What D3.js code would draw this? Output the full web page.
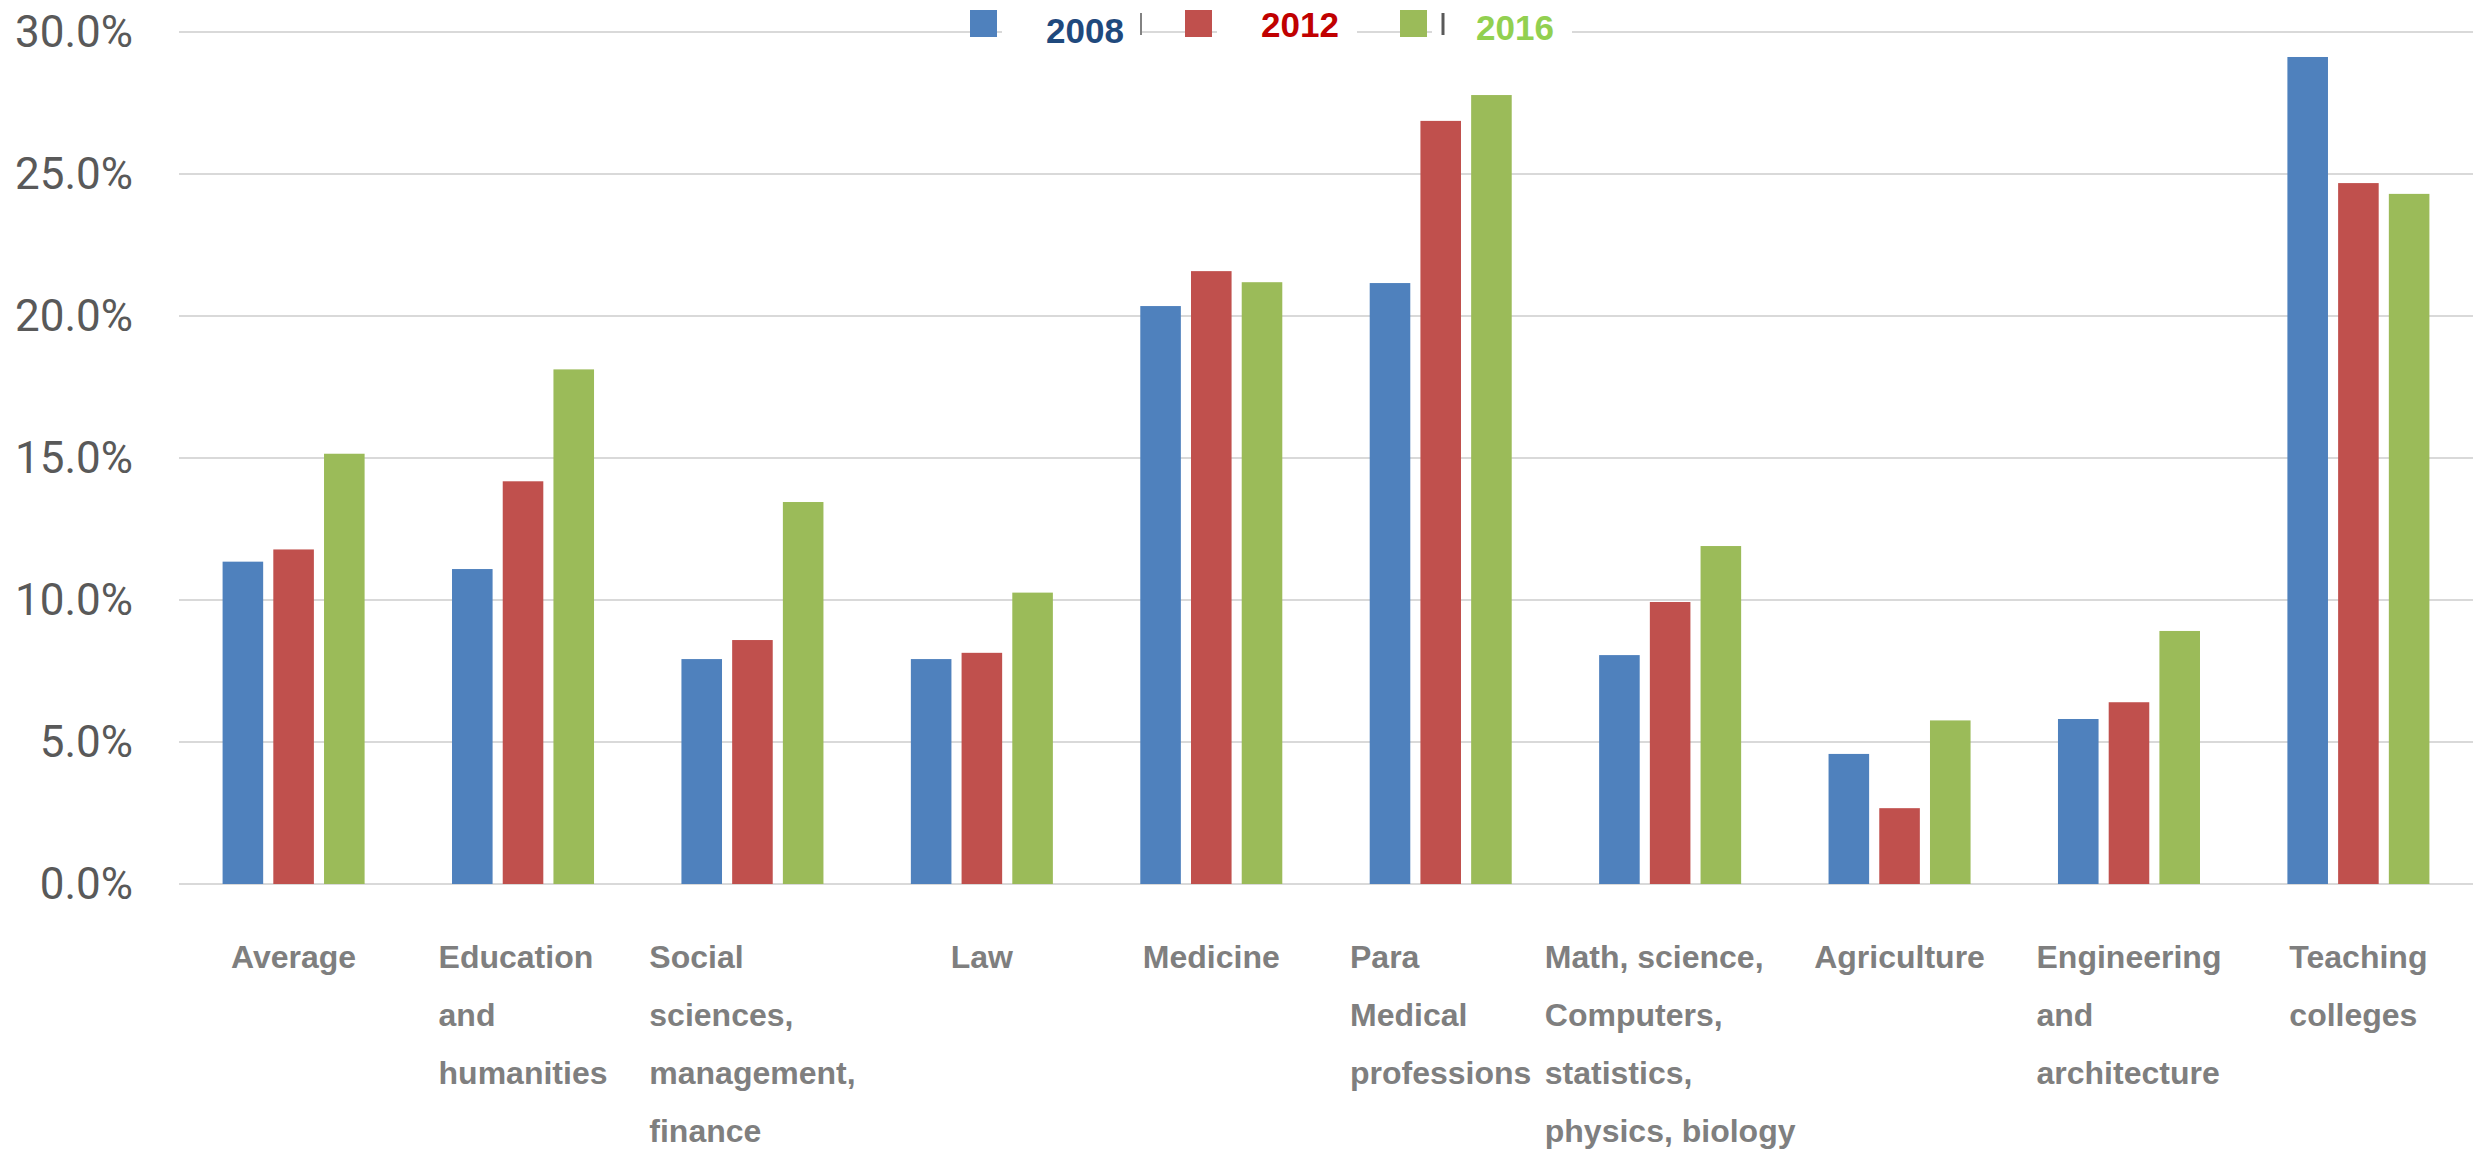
<!DOCTYPE html>
<html>
<head>
<meta charset="utf-8">
<script src="https://cdn.jsdelivr.net/npm/d3@7"></script>
<style>
  body { margin: 0; background: #fff; }
  svg { display: block; }
</style>
</head>
<body>
<svg id="chart"></svg>
<script>
// data
const categories = [
  "Average",
  "Education and humanities",
  "Social sciences, management, finance",
  "Law",
  "Medicine",
  "Para Medical professions",
  "Math, science, Computers, statistics, physics, biology",
  "Agriculture",
  "Engineering and architecture",
  "Teaching colleges"
];
// how each category label is broken into lines
const labelLines = [
  ["Average"],
  ["Education", "and", "humanities"],
  ["Social", "sciences,", "management,", "finance"],
  ["Law"],
  ["Medicine"],
  ["Para", "Medical", "professions"],
  ["Math, science,", "Computers,", "statistics,", "physics, biology"],
  ["Agriculture"],
  ["Engineering", "and", "architecture"],
  ["Teaching", "colleges"]
];
const years = ["2008", "2012", "2016"];
const values2008 = [11.35, 11.09, 7.92, 7.92, 20.35, 21.16, 8.06, 4.58, 5.81, 29.12];
const values2012 = [11.78, 14.18, 8.59, 8.14, 21.58, 26.87, 9.93, 2.67, 6.40, 24.68];
const values2016 = [15.15, 18.12, 13.45, 10.26, 21.19, 27.78, 11.90, 5.76, 8.91, 24.30];
const yTicks = [0, 5, 10, 15, 20, 25, 30];

const barColors = ["#4f81bd", "#c0504d", "#9bbb59"];
const legendTextColors = ["#1f497d", "#c00000", "#92d050"];

const width = 2473, height = 1156;
const margin = { top: 32, right: 0, bottom: 272, left: 179 };

const svg = d3.select("#chart").attr("width", width).attr("height", height);

const series = [values2008, values2012, values2016];
const rows = categories.map((c, i) => ({
  cat: c,
  lines: labelLines[i],
  vals: years.map((y, j) => ({ year: y, idx: j, v: series[j][i] }))
}));

const x0 = d3.scaleBand()
  .domain(categories)
  .range([margin.left, width - margin.right])
  .paddingInner(0.381)
  .paddingOuter(0.19);

const x1 = d3.scaleBand()
  .domain(years)
  .range([0, x0.bandwidth()])
  .paddingInner(0.2);

const y = d3.scaleLinear()
  .domain([0, 30])
  .range([height - margin.bottom, margin.top]);

// gridlines
svg.append("g")
  .selectAll("line")
  .data(yTicks)
  .join("line")
  .attr("x1", margin.left)
  .attr("x2", width - margin.right)
  .attr("y1", d => y(d))
  .attr("y2", d => y(d))
  .attr("stroke", "#d9d9d9")
  .attr("stroke-width", 2);

// y axis labels
const yAxis = g => g
  .attr("transform", `translate(${margin.left},0)`)
  .call(d3.axisLeft(y)
    .tickValues(yTicks)
    .tickSize(0)
    .tickPadding(46)
    .tickFormat(d => d3.format(".1f")(d) + "%"))
  .call(g => g.select(".domain").remove())
  .call(g => g.selectAll(".tick text")
    .attr("font-family", "Roboto, sans-serif")
    .attr("font-size", 44)
    .attr("fill", "#595959"));
svg.append("g").call(yAxis);

// bars
svg.append("g")
  .selectAll("g")
  .data(rows)
  .join("g")
  .attr("transform", d => `translate(${x0(d.cat)},0)`)
  .selectAll("rect")
  .data(d => d.vals)
  .join("rect")
  .attr("x", d => x1(d.year))
  .attr("y", d => y(d.v))
  .attr("width", x1.bandwidth())
  .attr("height", d => y(0) - y(d.v))
  .attr("fill", d => barColors[d.idx]);

// category labels: block centred under the group, lines left aligned
const labels = svg.append("g")
  .attr("font-family", "'Liberation Sans', Arial, sans-serif")
  .attr("font-weight", "bold")
  .attr("font-size", 32)
  .attr("fill", "#7f7f7f")
  .selectAll("text")
  .data(rows)
  .join("text")
  .attr("y", 968);

labels.selectAll("tspan")
  .data(d => d.lines)
  .join("tspan")
  .attr("dy", (d, i) => i === 0 ? 0 : 58)
  .text(d => d);

labels.each(function (d) {
  const t = d3.select(this);
  let maxW = 0;
  t.selectAll("tspan").each(function () {
    maxW = Math.max(maxW, this.getComputedTextLength());
  });
  const left = x0(d.cat) + x0.bandwidth() / 2 - maxW / 2;
  t.attr("x", left);
  t.selectAll("tspan").attr("x", left);
});

// legend
const legendX = d3.scaleBand().domain(years).range([970, 1615]);
const legend = svg.append("g")
  .selectAll("g")
  .data(years)
  .join("g")
  .attr("transform", d => `translate(${legendX(d)},0)`);

legend.append("rect")
  .attr("x", 32)
  .attr("y", 12)
  .attr("width", 140)
  .attr("height", 40)
  .attr("fill", "#fff");

legend.append("rect")
  .attr("x", 0)
  .attr("y", 10)
  .attr("width", 27)
  .attr("height", 27)
  .attr("fill", (d, i) => barColors[i]);

legend.append("text")
  .attr("x", 76)
  .attr("y", (d, i) => [43, 37, 40][i])
  .attr("font-family", "'Liberation Sans', Arial, sans-serif")
  .attr("font-weight", "bold")
  .attr("font-size", 35)
  .attr("fill", (d, i) => legendTextColors[i])
  .text(d => d);

// small separator marks seen in the legend
svg.append("g")
  .selectAll("line")
  .data([{ x: 1141, w: 1.5 }, { x: 1443, w: 3 }])
  .join("line")
  .attr("x1", d => d.x)
  .attr("x2", d => d.x)
  .attr("y1", 13)
  .attr("y2", 35)
  .attr("stroke", "#595959")
  .attr("stroke-width", d => d.w);
</script>
</body>
</html>
